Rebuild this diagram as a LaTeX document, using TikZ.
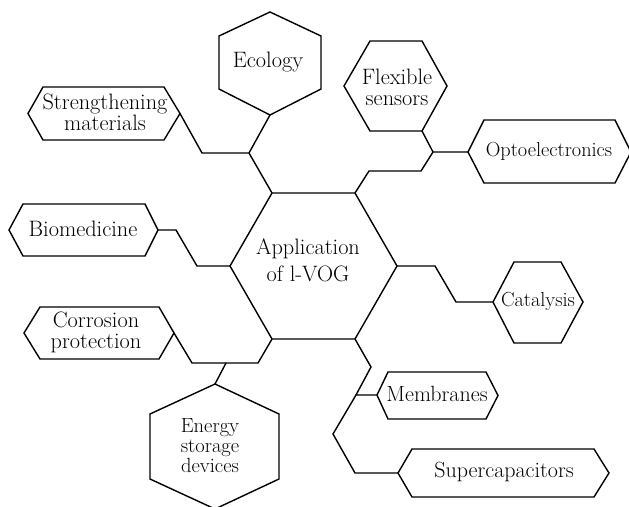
\documentclass[tikz,border=0pt]{standalone}
\begin{document}
\begin{tikzpicture}[x=1pt,y=-1pt,
  shp/.style={draw=black,line width=1.4pt,line join=miter},
  con/.style={draw=black,line width=1.4pt,line join=miter},
  lbl/.style={inner sep=0pt,align=center,font=\rmfamily\fontsize{22.3}{21}\selectfont},
  lbls/.style={inner sep=0pt,align=center,font=\rmfamily\fontsize{20.3}{20}\selectfont},
  lblb/.style={inner sep=0pt,align=center,font=\rmfamily\fontsize{22}{22}\selectfont},
]
\useasboundingbox (0,0) rectangle (629,506);

% hexagons
\draw[shp] (230,266) coordinate (c-L) -- (272,193) coordinate (c-TL) -- (355,193) coordinate (c-TR)
  -- (397,266) coordinate (c-R) -- (355,339) coordinate (c-BR) -- (272,339) coordinate (c-BL) -- cycle;
\draw[shp] (270,12) -- (219,36) -- (219,89) -- (270,115) coordinate (eco-B) -- (321,89) -- (321,36) -- cycle;
\draw[shp] (28,113.5) -- (43,87) -- (164,87) -- (180,113.5) coordinate (str-R) -- (164,140) -- (43,140) -- cycle;
\draw[shp] (9,230) -- (23,204) -- (145,204) -- (158,230) coordinate (bio-R) -- (145,256) -- (23,256) -- cycle;
\draw[shp] (24,333) -- (40,307) -- (159,307) -- (174,333) coordinate (cor-R) -- (159,359) -- (40,359) -- cycle;
\draw[shp] (215,384) coordinate (ene-T) -- (150,414) -- (150,479) -- (215,509) -- (279,479) -- (279,414) -- cycle;
\draw[shp] (344,86) -- (370,41) -- (422,41) -- (447,86) -- (422,131) coordinate (flx-BR) -- (370,131) -- cycle;
\draw[shp] (468,152) coordinate (opt-L) -- (484,120) -- (615,120) -- (631,152) -- (615,183) -- (484,183) -- cycle;
\draw[shp] (493,302) coordinate (cat-L) -- (514,262) -- (561,262) -- (583,302) -- (561,343) -- (514,343) -- cycle;
\draw[shp] (377,395) coordinate (mem-L) -- (388,372) -- (486,372) -- (498,395.5) -- (486,419) -- (388,419) -- cycle;
\draw[shp] (398,473) coordinate (sup-L) -- (412,449) -- (594,449) -- (609,473) -- (594,497) -- (412,497) -- cycle;

% labels
\node[inner sep=0pt,align=center,font=\rmfamily\fontsize{22.3}{27}\selectfont] (app) at (308,260) {Application\\of l-VOG};
\node[lbl] (eco) at (268,62) {Ecology};
\node[lbl] (str) at (105,112) {Strengthening\\materials};
\node[lbl] (bio) at (83,229) {Biomedicine};
\node[lbl] (cor) at (96,332) {Corrosion\\protection};
\node[inner sep=0pt,align=center,font=\rmfamily\fontsize{20.5}{20}\selectfont] (ene) at (210,446) {Energy\\storage\\devices};
\node[lbl] (flx) at (397,87) {Flexible\\sensors};
\node[lbls] (opt) at (549,151) {Optoelectronics};
\node[lbls] (cat) at (538,301) {Catalysis};
\node[lblb] (mem) at (437,394) {Membranes};
\node[lblb] (sup) at (504,472) {Supercapacitors};

% junctions
\coordinate (j1) at (249,153);
\coordinate (j2) at (433,152);
\coordinate (j3) at (356,395);
\coordinate (j4) at (226,363);

% connectors
\draw[con] (str-R) -- (202,153) -- (j1) -- (c-TL);
\draw[con] (j1) -- (eco-B);
\draw[con] (bio-R) -- (176,230) -- (197,266) -- (c-L);
\draw[con] (cor-R) -- (192,363) -- (258,363) -- (c-BL);
\draw[con] (j4) -- (ene-T);
\draw[con] (flx-BR) -- (j2) -- (opt-L);
\draw[con] (j2) -- (421,171) -- (369,171) -- (c-TR);
\draw[con] (c-R) -- (435,266) -- (456,302) -- (cat-L);
\draw[con] (c-BR) -- (371,367) -- (j3) -- (mem-L);
\draw[con] (j3) -- (333,434) -- (355,473) -- (sup-L);
\end{tikzpicture}
\end{document}
